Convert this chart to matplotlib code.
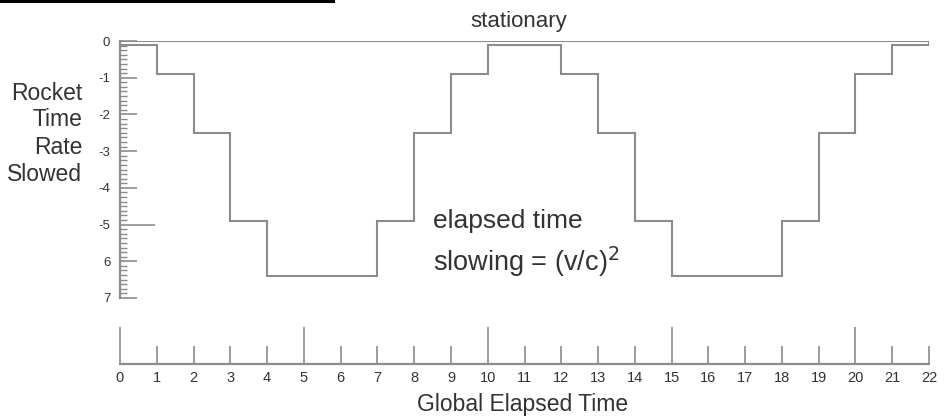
import matplotlib
matplotlib.use("Agg")
import matplotlib.pyplot as plt
from matplotlib.lines import Line2D
import numpy as np

plt.rcParams['font.family'] = ['Liberation Sans', 'DejaVu Sans']

# Data
step_edges = list(range(0, 23))
slowing = [0.1, 0.9, 2.5, 4.9, 6.4, 6.4, 6.4, 4.9, 2.5, 0.9, 0.1, 0.1,
           0.9, 2.5, 4.9, 6.4, 6.4, 6.4, 4.9, 2.5, 0.9, 0.1]
stationary = [0, 0]
stationary_x = [0, 22]
y_ticks = [0, 1, 2, 3, 4, 5, 6, 7]
y_tick_labels = ['0', '-1', '-2', '-3', '-4', '-5', '6', '7']
x_ticks = list(range(0, 23))
x_tick_labels = [str(v) for v in x_ticks]

W, H = 944, 417
fig = plt.figure(figsize=(W / 100, H / 100), dpi=100)

line_c = '#8c8c8c'
text_c = '#333333'

def fx(px):
    return px / W

def fy(py):
    return 1 - py / H

# main axes
ax = fig.add_axes([fx(120), fy(298), fx(929) - fx(120), fy(41) - fy(298)])
ax.stairs(slowing, step_edges, color=line_c, lw=1.5)
ax.plot(stationary_x, stationary, color=line_c, lw=1.5)
ax.set_xlim(0, 22)
ax.set_ylim(7, 0)
for s in ['top', 'right', 'bottom']:
    ax.spines[s].set_visible(False)
ax.spines['left'].set_color(line_c)
ax.spines['left'].set_linewidth(1.6)
ax.set_xticks([])
ax.set_yticks(y_ticks)
ax.set_yticklabels(y_tick_labels)
ax.set_yticks(np.arange(0, 7.001, 0.125), minor=True)
ax.tick_params(axis='y', which='major', direction='in', length=12, width=1.2,
               color=line_c, labelsize=9.5, labelcolor=text_c, pad=7)
ax.tick_params(axis='y', which='minor', direction='in', length=5, width=1.0,
               color=line_c)
for t, v in zip(ax.yaxis.get_major_ticks(), y_ticks):
    if v == 5:
        t.tick1line.set_markersize(25)

# bottom axis
bx = fig.add_axes([fx(120), fy(364), fx(929) - fx(120), 0.08])
bx.set_xlim(0, 22)
bx.set_ylim(0, 1)
for s in ['top', 'right', 'left']:
    bx.spines[s].set_visible(False)
bx.spines['bottom'].set_color(line_c)
bx.spines['bottom'].set_linewidth(1.6)
bx.patch.set_alpha(0)
bx.set_yticks([])
bx.set_xticks(x_ticks)
bx.set_xticklabels(x_tick_labels)
bx.tick_params(axis='x', direction='in', length=13, width=1.2, color=line_c,
               labelsize=10.5, labelcolor=text_c, pad=5)
for t, v in zip(bx.xaxis.get_major_ticks(), x_ticks):
    if v % 5 == 0 and v < 22:
        t.tick1line.set_markersize(26.6)

# texts
fig.text(fx(519), fy(21), 'stationary', ha='center', va='center',
         fontsize=16, color=text_c)
for label, py in zip(['Rocket', 'Time', 'Rate', 'Slowed'], [93, 120, 147, 174]):
    fig.text(fx(82), fy(py), label, ha='right', va='center', fontsize=16.5,
             color=text_c)
fig.text(fx(523), fy(404), 'Global Elapsed Time', ha='center', va='center',
         fontsize=16.5, color=text_c)
fig.text(fx(433), fy(221), 'elapsed time', ha='left', va='center',
         fontsize=19, color=text_c)
fig.text(fx(433), fy(262), r'slowing = (v/c)$^2$', ha='left', va='center',
         fontsize=19.5, color=text_c)

fig.add_artist(Line2D([0, fx(333)], [fy(1), fy(1)], color='black', lw=2.2))

fig.savefig('out.png', dpi=100)
